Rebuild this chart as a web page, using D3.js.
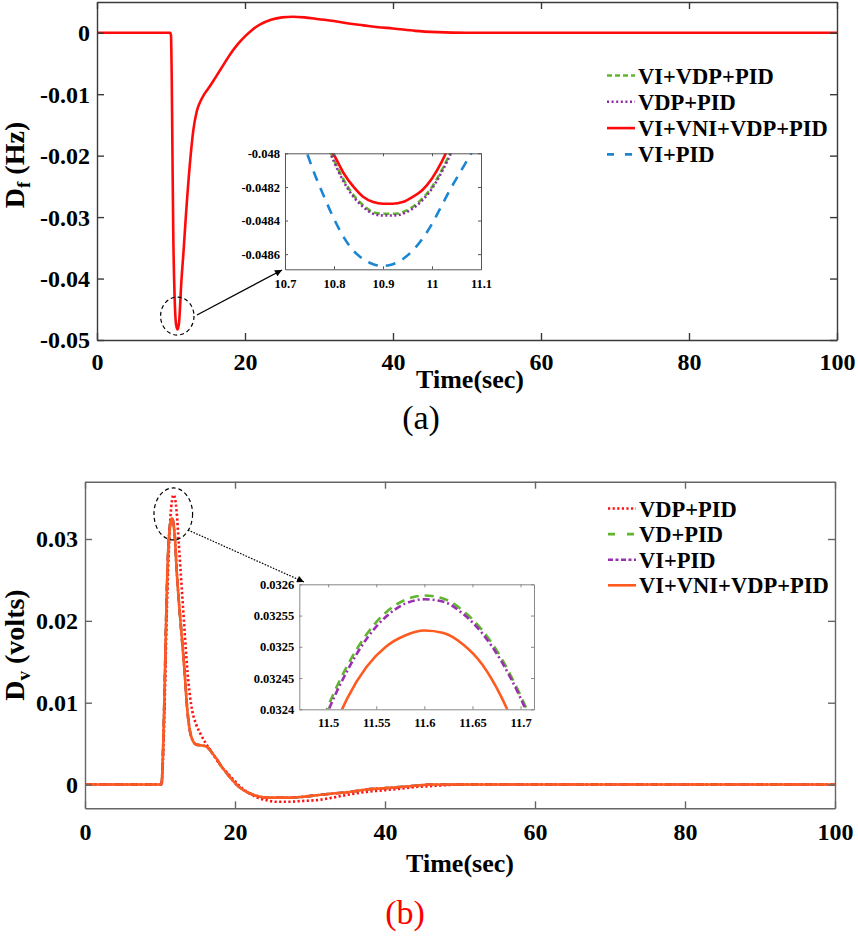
<!DOCTYPE html>
<html><head><meta charset="utf-8">
<script src="https://cdn.jsdelivr.net/npm/d3@7"></script>
<style>body{margin:0;background:#fff} svg{display:block}</style>
</head><body><svg id="c" width="858" height="937"></svg>
<script>
// ---------- DATA: panel (a) frequency deviation ----------
const seriesA = ["VI+VDP+PID", "VDP+PID", "VI+VNI+VDP+PID", "VI+PID"];
const timeA = [0, 9.9, 10.0, 10.1, 10.2, 10.3, 10.5, 10.7, 10.9, 11.1, 11.4, 11.7, 12.0, 12.6, 13.0, 13.5, 14.0, 14.5, 15.2, 16.0, 17.0, 18.0, 19.0, 20.0, 21.0, 22.0, 23.5, 25.0, 26.5, 28.0, 30.0, 32.0, 34.0, 36.0, 38.0, 40.0, 43.0, 46.0, 50.0, 55.0, 60.0, 70.0, 80.0, 90.0, 100.0];
const dfVNI = [0, 0, -0.0005, -0.0075, -0.0200, -0.0320, -0.0435, -0.0476, -0.0483, -0.0470, -0.0405, -0.0355, -0.0300, -0.0207, -0.0160, -0.0127, -0.0111, -0.0100, -0.0088, -0.0073, -0.0054, -0.0035, -0.0019, -0.0006, 0.0005, 0.0013, 0.0021, 0.0025, 0.0026, 0.0025, 0.0022, 0.0019, 0.0015, 0.0012, 0.0009, 0.0007, 0.0003, 0.0001, 0, 0, 0, 0, 0, 0, 0];
// zoomed window (a)
const timeZoomA = [10.70, 10.72, 10.745, 10.76, 10.78, 10.80, 10.82, 10.84, 10.86, 10.88, 10.90, 10.92, 10.94, 10.96, 10.98, 11.00, 11.02, 11.04, 11.06, 11.08, 11.10];
const zVIVDP = [-0.04725, -0.04745, -0.04765, -0.04775, -0.04790, -0.04804, -0.04816, -0.04825, -0.04831, -0.04835, -0.04836, -0.04836, -0.04835, -0.04832, -0.04827, -0.04820, -0.04810, -0.04798, -0.04783, -0.04768, -0.04750];
const zVDP = [-0.04726, -0.04746, -0.04766, -0.04776, -0.04791, -0.04805, -0.04817, -0.04826, -0.04832, -0.04836, -0.04837, -0.04837, -0.04836, -0.04833, -0.04828, -0.04821, -0.04811, -0.04799, -0.04784, -0.04769, -0.04751];
const zVNI = [-0.04730, -0.04750, -0.04770, -0.04780, -0.04792, -0.04801, -0.04812, -0.04820, -0.04826, -0.04829, -0.04830, -0.04830, -0.04829, -0.04826, -0.04822, -0.04815, -0.04805, -0.04792, -0.04777, -0.04760, -0.04740];
const zVI = [-0.04760, -0.04778, -0.04800, -0.04812, -0.04826, -0.04839, -0.04850, -0.04858, -0.04863, -0.04866, -0.04867, -0.04866, -0.04863, -0.04858, -0.04851, -0.04842, -0.04831, -0.04820, -0.04810, -0.04800, -0.04788];
const xTicksMain = [0, 20, 40, 60, 80, 100];
const xLabelsMain = ["0", "20", "40", "60", "80", "100"];
const yTicksA = [-0.05, -0.04, -0.03, -0.02, -0.01, 0];
const yLabelsA = ["-0.05", "-0.04", "-0.03", "-0.02", "-0.01", "0"];
const xTicksZA = [10.7, 10.8, 10.9, 11.0, 11.1];
const xLabelsZA = ["10.7", "10.8", "10.9", "11", "11.1"];
const yTicksZA = [-0.0486, -0.0484, -0.0482, -0.048];
const yLabelsZA = ["-0.0486", "-0.0484", "-0.0482", "-0.048"];

// ---------- DATA: panel (b) voltage deviation ----------
const seriesB = ["VDP+PID", "VD+PID", "VI+PID", "VI+VNI+VDP+PID"];
const timeB = [0, 9.9, 10.2, 10.4, 10.6, 10.8, 11.0, 11.2, 11.4, 11.6, 11.8, 12.0, 12.2, 12.5, 12.9, 13.3, 13.6, 14.0, 14.3, 14.8, 15.4, 16.0, 16.5, 17.0, 17.5, 18.2, 18.9, 19.6, 20.2, 21.0, 22.0, 23.0, 24.2, 25.5, 27.3, 29.0, 30.9, 33.0, 35.3, 37.5, 39.8, 42.0, 44.0, 46.0, 50, 60, 70, 80, 90, 100];
const dvVDP = [0, 0, 0.0000, 0.0030, 0.0090, 0.0170, 0.0240, 0.0290, 0.0328, 0.0347, 0.0354, 0.0350, 0.0335, 0.0295, 0.0240, 0.0185, 0.0145, 0.0108, 0.0090, 0.0074, 0.0062, 0.0052, 0.0045, 0.0038, 0.0031, 0.0022, 0.0015, 0.0008, 0.0002, -0.0005, -0.0011, -0.0016, -0.0019, -0.0021, -0.0021, -0.0020, -0.0019, -0.0016, -0.0012, -0.0009, -0.0007, -0.0005, -0.0003, -0.0002, 0, 0, 0, 0, 0, 0];
const dvVD = [0, 0, 0.0000, 0.0040, 0.0110, 0.0195, 0.0266, 0.0303, 0.0321, 0.03258, 0.0319, 0.0301, 0.0266, 0.0226, 0.0181, 0.0136, 0.0096, 0.0065, 0.0055, 0.0049, 0.0048, 0.0047, 0.0044, 0.0038, 0.0032, 0.0022, 0.0014, 0.0006, 0.0000, -0.0006, -0.0011, -0.0014, -0.0016, -0.0016, -0.0016, -0.0015, -0.0013, -0.0011, -0.0009, -0.0006, -0.00045, -0.0003, -0.00015, 0, 0, 0, 0, 0, 0, 0];
const dvVI = [0, 0, 0.0000, 0.0040, 0.0110, 0.0195, 0.0266, 0.0303, 0.0321, 0.03257, 0.0319, 0.0301, 0.0266, 0.0226, 0.0181, 0.0136, 0.0096, 0.0065, 0.0055, 0.0049, 0.0048, 0.0047, 0.0044, 0.0038, 0.0032, 0.0022, 0.0014, 0.0006, 0.0000, -0.0006, -0.0011, -0.0014, -0.0016, -0.0016, -0.0016, -0.0015, -0.0013, -0.0011, -0.0009, -0.0006, -0.00045, -0.0003, -0.00015, 0, 0, 0, 0, 0, 0, 0];
const dvVNI = [0, 0, 0.0000, 0.0040, 0.0110, 0.0195, 0.0265, 0.0302, 0.0320, 0.03253, 0.0318, 0.0300, 0.0265, 0.0225, 0.0180, 0.0135, 0.0095, 0.0065, 0.0055, 0.0049, 0.0048, 0.0047, 0.0044, 0.0038, 0.0032, 0.0022, 0.0014, 0.0006, 0.0000, -0.0006, -0.0011, -0.0014, -0.0016, -0.0016, -0.0016, -0.0015, -0.0013, -0.0011, -0.0009, -0.0006, -0.00045, -0.0003, -0.00015, 0, 0, 0, 0, 0, 0, 0];
// zoomed window (b)
const timeZoomB = [11.46, 11.48, 11.50, 11.52, 11.54, 11.56, 11.58, 11.60, 11.62, 11.64, 11.66, 11.68, 11.70, 11.72];
const zbVD = [0.032230, 0.032320, 0.032405, 0.032470, 0.032520, 0.032555, 0.032575, 0.032582, 0.032577, 0.032558, 0.032527, 0.032482, 0.032422, 0.032350];
const zbVI = [0.032220, 0.032310, 0.032397, 0.032462, 0.032513, 0.032548, 0.032569, 0.032576, 0.032572, 0.032553, 0.032522, 0.032477, 0.032418, 0.032345];
const zbVNI = [0.032150, 0.032250, 0.032345, 0.032418, 0.032468, 0.032500, 0.032518, 0.032526, 0.032522, 0.032504, 0.032472, 0.032420, 0.032350, 0.032270];
const yTicksB = [0, 0.01, 0.02, 0.03];
const yLabelsB = ["0", "0.01", "0.02", "0.03"];
const xTicksZB = [11.5, 11.55, 11.6, 11.65, 11.7];
const xLabelsZB = ["11.5", "11.55", "11.6", "11.65", "11.7"];
const yTicksZB = [0.0324, 0.03245, 0.0325, 0.03255, 0.0326];
const yLabelsZB = ["0.0324", "0.03245", "0.0325", "0.03255", "0.0326"];

// ---------- STYLES ----------
const FONT = "'Liberation Serif','Times New Roman',serif";
const styleA = {
  "VI+VDP+PID": {color: "#5fb52e", dash: "6,3.5", w: 2.6, legDash: "5,3"},
  "VDP+PID": {color: "#8a2aa6", dash: "2,2.5", w: 2.6, legDash: "2,2.6"},
  "VI+VNI+VDP+PID": {color: "#ff0a0a", dash: null, w: 2.6, legDash: null},
  "VI+PID": {color: "#1b86d4", dash: "10,8", w: 2.6, legDash: "7,11"}
};
const styleB = {
  "VDP+PID": {color: "#ff1010", dash: "2.2,2.4", w: 2.6, legDash: "2.2,2.4"},
  "VD+PID": {color: "#5fb52e", dash: "9,6", w: 2.6, legDash: "7,12"},
  "VI+PID": {color: "#9a2fb0", dash: "7,3,2,3", w: 2.6, legDash: "5,2.5,3,2.5"},
  "VI+VNI+VDP+PID": {color: "#ff5a1f", dash: null, w: 2.6, legDash: null}
};

const svg = d3.select("#c");
svg.append("rect").attr("width", 858).attr("height", 937).attr("fill", "#fff");
const defs = svg.append("defs");
defs.append("marker").attr("id", "ah").attr("viewBox", "0 0 10 10").attr("refX", 10).attr("refY", 5)
  .attr("markerWidth", 9).attr("markerHeight", 7).attr("markerUnits", "userSpaceOnUse").attr("orient", "auto")
  .append("path").attr("d", "M0,0 L10,5 L0,10 z").attr("fill", "#000");

let clipId = 0;
function clipFor(x, y) {
  const id = "clip" + (clipId++);
  const [x0, x1] = x.range(), [y0, y1] = y.range();
  defs.append("clipPath").attr("id", id).append("rect")
    .attr("x", x0).attr("y", y1).attr("width", x1 - x0).attr("height", y0 - y1);
  return "url(#" + id + ")";
}

function drawAxes(g, x, y, cfg) {
  const [x0, x1] = x.range(), [y0, y1] = y.range();
  const list = [
    {a: d3.axisBottom(x).tickValues(cfg.xt).tickFormat((d, i) => cfg.xl[i]), tr: `translate(0,${y0})`, side: "b"},
    {a: d3.axisTop(x).tickValues(cfg.xt).tickFormat(() => ""), tr: `translate(0,${y1})`},
    {a: d3.axisLeft(y).tickValues(cfg.yt).tickFormat((d, i) => cfg.yl[i]), tr: `translate(${x0},0)`, side: "l"},
    {a: d3.axisRight(y).tickValues(cfg.yt).tickFormat(() => ""), tr: `translate(${x1},0)`}
  ];
  list.forEach(o => {
    o.a.tickSizeInner(-cfg.tick).tickSizeOuter(0).tickPadding(4);
    const ga = g.append("g").attr("transform", o.tr).call(o.a).attr("font-family", FONT);
    ga.select(".domain").attr("stroke", cfg.color).attr("stroke-width", cfg.sw);
    ga.selectAll(".tick line").attr("stroke", cfg.color).attr("stroke-width", cfg.sw);
    const t = ga.selectAll("text").attr("font-family", FONT).attr("font-size", cfg.fs)
      .attr("font-weight", "bold").attr("fill", "#000");
    if (o.side === "b") t.attr("y", cfg.xBase).attr("dy", 0);
    if (o.side === "l") t.attr("x", -cfg.yGap).attr("dy", "0.33em");
  });
}

function drawLine(g, x, y, ts, vs, st, clip) {
  const line = d3.line().x(d => x(d[0])).y(d => y(d[1])).curve(d3.curveMonotoneX);
  g.append("path").datum(ts.map((t, i) => [t, vs[i]]))
    .attr("d", line).attr("fill", "none").attr("stroke", st.color)
    .attr("stroke-width", st.w).attr("stroke-dasharray", st.dash)
    .attr("stroke-linejoin", "round").attr("clip-path", clip);
}

function drawLegend(g, names, styles, x0, base0, step) {
  names.forEach((n, i) => {
    const st = styles[n], b = base0 + i * step;
    g.append("line").attr("x1", x0).attr("x2", x0 + 28).attr("y1", b - 8).attr("y2", b - 8)
      .attr("stroke", st.color).attr("stroke-width", 2.6).attr("stroke-dasharray", st.legDash);
    g.append("text").attr("x", x0 + 31).attr("y", b).text(n)
      .attr("font-family", FONT).attr("font-size", 22.5).attr("font-weight", "bold").attr("fill", "#000");
  });
}

function yLabel(g, x, yc, main, sub, rest) {
  const t = g.append("text").attr("transform", `translate(${x},${yc}) rotate(-90)`)
    .attr("text-anchor", "middle").attr("font-family", FONT).attr("font-size", 28).attr("font-weight", "bold");
  t.append("tspan").text(main);
  t.append("tspan").attr("font-size", 19).attr("dy", 6).text(sub);
  t.append("tspan").attr("dy", -6).text(rest);
}

// ================= PANEL (a) =================
const gA = svg.append("g");
const xA = d3.scaleLinear().domain([0, 100]).range([97, 837]);
const yA = d3.scaleLinear().domain([-0.05, 0.005]).range([340, 2]);
const clipA = clipFor(xA, yA);
drawLine(gA, xA, yA, timeA, dfVNI, styleA["VI+VNI+VDP+PID"], clipA);
drawAxes(gA, xA, yA, {xt: xTicksMain, xl: xLabelsMain, yt: yTicksA, yl: yLabelsA, tick: 7, sw: 1.4,
  color: "#3a3a3a", fs: 24, xBase: 30, yGap: 7});
gA.append("text").attr("x", 470).attr("y", 388).attr("text-anchor", "middle").text("Time(sec)")
  .attr("font-family", FONT).attr("font-size", 26).attr("font-weight", "bold");
yLabel(gA, 24, 165, "D", "f", " (Hz)");
drawLegend(gA, seriesA, styleA, 607, 83.5, 26.3);

// ellipse and arrow
gA.append("ellipse").attr("cx", xA(10.85)).attr("cy", yA(-0.0461)).attr("rx", 16.7).attr("ry", 19)
  .attr("fill", "none").attr("stroke", "#000").attr("stroke-width", 1.2).attr("stroke-dasharray", "4,3");
gA.append("line").attr("x1", 197).attr("y1", 315).attr("x2", 282).attr("y2", 270)
  .attr("stroke", "#000").attr("stroke-width", 1.3).attr("marker-end", "url(#ah)");

// inset (a)
const gZA = svg.append("g");
const xZA = d3.scaleLinear().domain([10.7, 11.1]).range([285, 481]);
const yZA = d3.scaleLinear().domain([-0.04869, -0.048]).range([269.3, 153.3]);
gZA.append("rect").attr("x", 285).attr("y", 153.3).attr("width", 196).attr("height", 116).attr("fill", "#fff");
const clipZA = clipFor(xZA, yZA);
drawLine(gZA, xZA, yZA, timeZoomA, zVI, styleA["VI+PID"], clipZA);
drawLine(gZA, xZA, yZA, timeZoomA, zVIVDP, styleA["VI+VDP+PID"], clipZA);
drawLine(gZA, xZA, yZA, timeZoomA, zVDP, styleA["VDP+PID"], clipZA);
drawLine(gZA, xZA, yZA, timeZoomA, zVNI, styleA["VI+VNI+VDP+PID"], clipZA);
drawAxes(gZA, xZA, yZA, {xt: xTicksZA, xl: xLabelsZA, yt: yTicksZA, yl: yLabelsZA, tick: 3, sw: 1,
  color: "#555", fs: 12.5, xBase: 18.5, yGap: 5});

svg.append("text").attr("x", 421).attr("y", 429).attr("text-anchor", "middle").text("(a)")
  .attr("font-family", FONT).attr("font-size", 34).attr("fill", "#000");

// ================= PANEL (b) =================
const gB = svg.append("g");
const xB = d3.scaleLinear().domain([0, 100]).range([85, 835]);
const yB = d3.scaleLinear().domain([-0.0029, 0.037]).range([808.3, 481.7]);
const clipB = clipFor(xB, yB);
drawLine(gB, xB, yB, timeB, dvVD, styleB["VD+PID"], clipB);
drawLine(gB, xB, yB, timeB, dvVI, styleB["VI+PID"], clipB);
drawLine(gB, xB, yB, timeB, dvVDP, styleB["VDP+PID"], clipB);
drawLine(gB, xB, yB, timeB, dvVNI, styleB["VI+VNI+VDP+PID"], clipB);
drawAxes(gB, xB, yB, {xt: xTicksMain, xl: xLabelsMain, yt: yTicksB, yl: yLabelsB, tick: 7, sw: 1.4,
  color: "#666", fs: 24, xBase: 31.5, yGap: 7});
gB.append("text").attr("x", 460).attr("y", 872).attr("text-anchor", "middle").text("Time(sec)")
  .attr("font-family", FONT).attr("font-size", 26).attr("font-weight", "bold");
yLabel(gB, 24, 645, "D", "v", " (volts)");
drawLegend(gB, seriesB, styleB, 608, 516.5, 25.6);

gB.append("ellipse").attr("cx", xB(11.77)).attr("cy", yB(0.03306)).attr("rx", 19.3).attr("ry", 26)
  .attr("fill", "none").attr("stroke", "#000").attr("stroke-width", 1.2).attr("stroke-dasharray", "4,3");
gB.append("line").attr("x1", 188).attr("y1", 530).attr("x2", 304).attr("y2", 582)
  .attr("stroke", "#000").attr("stroke-width", 1.2).attr("stroke-dasharray", "1.6,1.4").attr("marker-end", "url(#ah)");

// inset (b)
const gZB = svg.append("g");
const xZB = d3.scaleLinear().domain([11.47, 11.714]).range([299.3, 534]);
const yZB = d3.scaleLinear().domain([0.0324, 0.0326]).range([709.3, 584.3]);
gZB.append("rect").attr("x", 299.3).attr("y", 584.3).attr("width", 234.7).attr("height", 125).attr("fill", "#fff");
const clipZB = clipFor(xZB, yZB);
drawLine(gZB, xZB, yZB, timeZoomB, zbVD, styleB["VD+PID"], clipZB);
drawLine(gZB, xZB, yZB, timeZoomB, zbVI, styleB["VI+PID"], clipZB);
drawLine(gZB, xZB, yZB, timeZoomB, zbVNI, styleB["VI+VNI+VDP+PID"], clipZB);
drawAxes(gZB, xZB, yZB, {xt: xTicksZB, xl: xLabelsZB, yt: yTicksZB, yl: yLabelsZB, tick: 3, sw: 1,
  color: "#888", fs: 12.5, xBase: 17.5, yGap: 5});

svg.append("text").attr("x", 405).attr("y", 923.5).attr("text-anchor", "middle").text("(b)")
  .attr("font-family", FONT).attr("font-size", 34).attr("fill", "#ff0000");
</script></body></html>
